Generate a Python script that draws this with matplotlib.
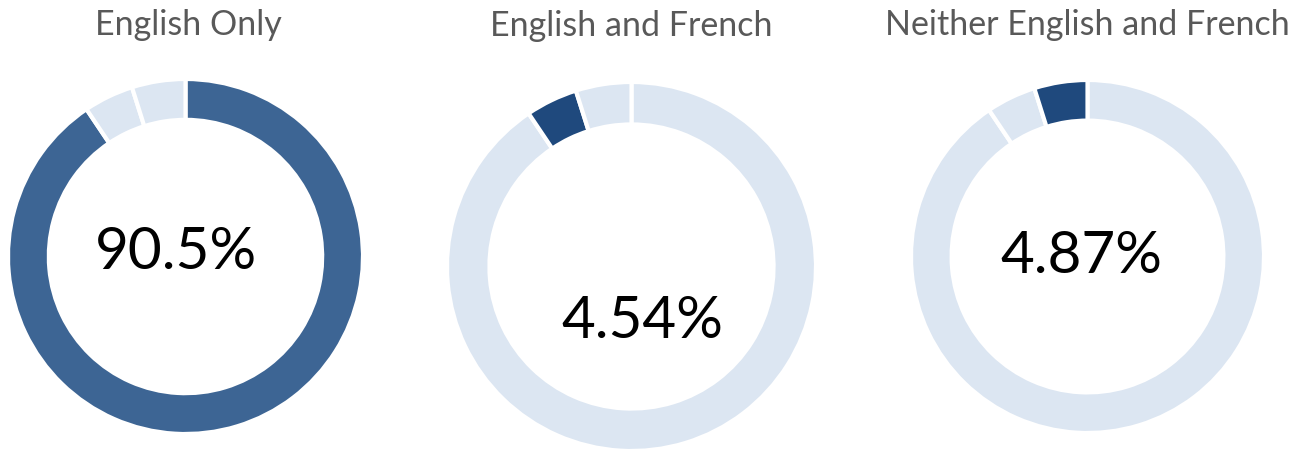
import matplotlib.pyplot as plt

W, H = 1304, 452

groups = ["English Only", "English and French", "Neither English and French"]
shares = [90.5, 4.54, 4.87]
labels = ["90.5%", "4.54%", "4.87%"]

light = "#DCE6F2"
dark = ["#3D6594", "#1F497D", "#1F497D"]

# donut boxes in pixels: center x, center y, radius
donuts = [(185.5, 257.5, 177.5), (631.5, 267.5, 184.5), (1087.5, 257.5, 176.5)]
# label positions in pixels (center x, baseline y)
label_pos = [(176, 269), (642, 338), (1081, 273)]
title_pos = [(188, 35), (631, 36), (1087, 35)]

plt.rcParams['font.family'] = ['Lato', 'DejaVu Sans']

fig = plt.figure(figsize=(W / 100, H / 100), dpi=100)

for i, (cx, cy, r) in enumerate(donuts):
    ax = fig.add_axes([(cx - r) / W, 1 - (cy + r) / H, 2 * r / W, 2 * r / H])
    colors = [light, light, light]
    colors[i] = dark[i]
    ax.pie(shares, colors=colors, startangle=90, counterclock=False, radius=1,
           wedgeprops=dict(width=0.23, edgecolor="white", linewidth=3))
    ax.set_xlim(-1, 1)
    ax.set_ylim(-1, 1)
    ax.set_aspect("auto")
    ax.axis("off")

    lx, ly = label_pos[i]
    fig.text(lx / W, 1 - ly / H, labels[i], ha="center", va="baseline",
             fontsize=42, color="black")
    tx, ty = title_pos[i]
    fig.text(tx / W, 1 - ty / H, groups[i], ha="center", va="baseline",
             fontsize=24.5, color="#595959")

fig.savefig("out.png", dpi=100)
